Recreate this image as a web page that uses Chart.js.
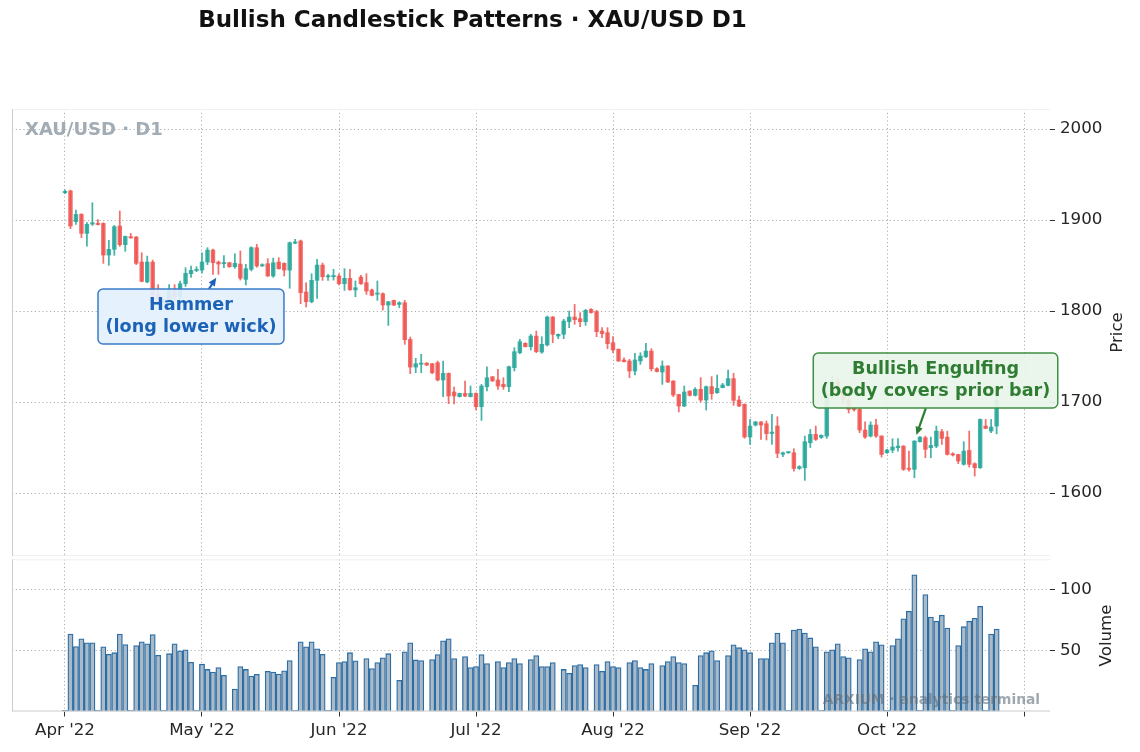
<!DOCTYPE html>
<html>
<head>
<meta charset="utf-8">
<title>Bullish Candlestick Patterns · XAU/USD D1</title>
<script src="https://cdn.jsdelivr.net/npm/chart.js@4.4.1/dist/chart.umd.min.js"></script>
<style>
  html, body { margin: 0; padding: 0; background: #fff; }
  #wrap { position: relative; width: 1140px; height: 752px; overflow: hidden; background: #fff; }
  #price-chart { position: absolute; left: 0; top: 0; }
  #volume-chart { position: absolute; left: 0; top: 555px; }
</style>
</head>
<body>
<div id="wrap">
  <canvas id="price-chart" width="1140" height="557"></canvas>
  <canvas id="volume-chart" width="1140" height="197"></canvas>
</div>
<script>
/*** data (one row = one 6-session week) ***/
const opens = [
  1930, 1932, 1898.2, 1906.2, 1885.3, 1895.5,
  1896, 1896.3, 1861.5, 1867.8, 1893.4, 1872.9,
  1881.7, 1881.3, 1853.8, 1832, 1853.8, 1818,
  1810, 1811, 1822, 1816, 1830, 1841,
  1844.5, 1845, 1853.8, 1867, 1853.8, 1852,
  1853.1, 1848.7, 1851.6, 1834.8, 1845.8, 1869.6,
  1849.5, 1852, 1838.5, 1853.8, 1852.4, 1845,
  1874.5, 1877, 1820.9, 1810.2, 1833.7, 1850.5,
  1837.5, 1837.7, 1838.5, 1830, 1835.9, 1823.2,
  1837.3, 1831.1, 1823.1, 1818.5, 1819, 1806.6,
  1811.7, 1807.3, 1809.1, 1768.8, 1738.4, 1741.5,
  1742.8, 1742.1, 1743.2, 1724.2, 1731.5, 1711,
  1705.9, 1709.5, 1705.9, 1709.5, 1694.9, 1716.9,
  1727.8, 1724.2, 1719.4, 1716.8, 1737.7, 1754.2,
  1764.5, 1760.8, 1772.5, 1754.9, 1762.7, 1793.4,
  1772.5, 1774.4, 1788.3, 1793.4, 1791.6, 1788.3,
  1801.8, 1799.3, 1778, 1776.2, 1765.2, 1757.9,
  1746.2, 1745.1, 1734.1, 1745.1, 1749.8, 1756,
  1736.6, 1733, 1739.6, 1723.1, 1708.4, 1695.6,
  1712.1, 1707.3, 1714, 1702.2, 1716.9, 1710.3,
  1715.8, 1718.3, 1725.7, 1702.2, 1697.5, 1661.6,
  1674.7, 1678.1, 1676.2, 1665.4, 1673.6, 1642.5,
  1644.3, 1644.3, 1627, 1627.8, 1655.3, 1664.4,
  1661.1, 1662.6, 1708, 1722, 1712, 1702,
  1692.5, 1691.9, 1669.2, 1662.6, 1674.7, 1662.6,
  1644.3, 1647.2, 1649.8, 1651.6, 1627, 1626,
  1656.4, 1660.8, 1649.8, 1651.6, 1667.4, 1661.5,
  1643.2, 1642.4, 1631.5, 1646.8, 1632.2, 1627.8,
  1673.6, 1668.1, 1673.6
];
const highs = [
  1933, 1933, 1911, 1907, 1897.1, 1919,
  1900.5, 1897, 1877.6, 1894.1, 1909.9, 1882.5,
  1885.3, 1882, 1864, 1860.4, 1856, 1829,
  1813, 1829, 1829, 1833, 1847.6, 1849.5,
  1848.7, 1864, 1869.6, 1868, 1855, 1861,
  1853.5, 1863, 1866, 1851.3, 1870.7, 1873.3,
  1852, 1857.5, 1858.2, 1858.6, 1853, 1875.8,
  1878.8, 1878, 1831.1, 1841, 1856.8, 1852.7,
  1840.3, 1845.8, 1841, 1846.5, 1845.8, 1833,
  1839.2, 1841, 1824, 1833, 1820, 1810.5,
  1812, 1810.2, 1811.7, 1771.4, 1748, 1752.4,
  1743.2, 1742.5, 1745, 1745, 1732, 1716.5,
  1709.8, 1723.1, 1717.6, 1710, 1719.4, 1738.8,
  1728, 1735.9, 1726.7, 1739.5, 1759.7, 1768.9,
  1765.2, 1774.4, 1778, 1771.8, 1794.5, 1794,
  1774.8, 1790.9, 1800, 1807.3, 1798.2, 1801.8,
  1802.6, 1800.8, 1781.7, 1781.7, 1771.8, 1758.5,
  1748.7, 1746.9, 1753.5, 1754.2, 1764.5, 1758.6,
  1737.7, 1745.1, 1740, 1723.5, 1708.5, 1717.6,
  1712.4, 1715.8, 1726.8, 1717.6, 1727.9, 1729.7,
  1720.5, 1735.2, 1731.5, 1706.6, 1698, 1681,
  1678.8, 1678.4, 1679.2, 1686.4, 1683.8, 1645,
  1645, 1648.7, 1630, 1662.6, 1669.9, 1673.6,
  1664, 1712, 1730, 1726, 1716, 1708,
  1694, 1694, 1678.3, 1678.3, 1680.9, 1663,
  1648, 1659.7, 1659.7, 1652, 1646.1, 1657.5,
  1662, 1662.6, 1661.5, 1673.6, 1670, 1668,
  1644.3, 1642.5, 1656.4, 1668.1, 1633.3, 1681.5,
  1680.9, 1680.9, 1706
];
const lows = [
  1929, 1890.5, 1895.2, 1880.6, 1871.4, 1894,
  1894.5, 1852.4, 1850.2, 1861.2, 1871, 1865.6,
  1880, 1851, 1832, 1831, 1814, 1806,
  1808, 1806, 1812, 1813, 1827, 1837,
  1843.2, 1842, 1851, 1840.3, 1840.3, 1847.6,
  1848, 1847, 1834, 1828.6, 1844, 1848,
  1849, 1838, 1837, 1846, 1838.5, 1825,
  1874, 1808, 1804.4, 1809, 1813.9, 1833.7,
  1833.7, 1834, 1828.6, 1822.7, 1822.7, 1815.7,
  1829.3, 1818.3, 1816.5, 1811.7, 1801.1, 1784.2,
  1806, 1803.6, 1763.4, 1731.1, 1732.2, 1732.2,
  1740, 1731.1, 1723.1, 1705.9, 1698.2, 1697.8,
  1705.5, 1705.9, 1705.5, 1691.2, 1679.8, 1712.1,
  1722.7, 1713.9, 1713.9, 1711.3, 1734.1, 1753.1,
  1760.4, 1757.2, 1754.2, 1753.5, 1761.6, 1765.2,
  1769.6, 1769.6, 1781.7, 1785.4, 1782.8, 1784.3,
  1797.6, 1771.8, 1770.7, 1758.6, 1754.2, 1744.5,
  1744, 1726.8, 1729.7, 1741.4, 1748.7, 1734.1,
  1733, 1719.4, 1721.3, 1705.9, 1689.1, 1694.9,
  1706.6, 1706.6, 1700, 1691.2, 1703, 1709.5,
  1715.5, 1717.6, 1696.4, 1695, 1660.1, 1653.5,
  1673.6, 1659, 1658.3, 1653.4, 1638.8, 1640,
  1643.5, 1624, 1626, 1613.9, 1650, 1657.8,
  1660, 1660, 1704, 1708, 1698, 1688,
  1690, 1666.3, 1660, 1661.5, 1661, 1639.5,
  1643.6, 1644.3, 1646.1, 1624.9, 1624.1, 1616.8,
  1656, 1638.8, 1638.8, 1649.8, 1653.4, 1641.7,
  1640.6, 1632.2, 1630.7, 1628.5, 1618.6, 1627,
  1670.7, 1666.3, 1665
];
const closes = [
  1931.5, 1893.4, 1906.2, 1885.3, 1895.2, 1897,
  1895, 1861.5, 1867.8, 1892.7, 1872.9, 1882,
  1880.3, 1852.4, 1832.6, 1853.8, 1818, 1810,
  1811, 1822, 1816, 1830, 1841.4, 1844.7,
  1845, 1853.8, 1867, 1853.1, 1851.6, 1853,
  1848.7, 1852.4, 1836, 1846.5, 1869.6, 1849.5,
  1851, 1838.5, 1853, 1846.5, 1845, 1875.1,
  1876, 1820.2, 1810.2, 1833.7, 1850.5, 1837.7,
  1838, 1838.5, 1830, 1835.9, 1823.4, 1825.6,
  1830, 1822, 1817.2, 1819.3, 1806.6, 1810.2,
  1806.6, 1809.1, 1768.5, 1738.4, 1742.1, 1742.5,
  1740.6, 1732.2, 1724.2, 1731.5, 1706.6, 1706.6,
  1709.5, 1706.6, 1709.5, 1694.9, 1717.6, 1726.7,
  1723.1, 1717.6, 1716.8, 1738.8, 1755.3, 1766.3,
  1760.8, 1772.5, 1755.3, 1763.4, 1793.4, 1774.4,
  1774.4, 1789, 1793.4, 1790.5, 1788.3, 1800.8,
  1798.2, 1777.3, 1775.1, 1764.1, 1757.2, 1745.1,
  1744.3, 1734.1, 1746.2, 1750.6, 1756, 1736.6,
  1733.5, 1739.6, 1722, 1707.7, 1695.6, 1711,
  1707.3, 1714, 1702.2, 1716.9, 1709.2, 1715,
  1718.7, 1725.7, 1701.8, 1695.6, 1661.6, 1673.6,
  1678.1, 1674.7, 1665.2, 1667, 1643.6, 1644.3,
  1644.8, 1627, 1629, 1656.4, 1664.4, 1658.9,
  1663.3, 1708, 1722, 1712, 1702, 1692,
  1691.5, 1669.2, 1661.5, 1674.7, 1662.6, 1642.4,
  1647.2, 1650.5, 1651.6, 1626, 1626, 1657.1,
  1661.5, 1648, 1652.3, 1668.1, 1660, 1642.4,
  1641.7, 1635.1, 1646.1, 1631.5, 1627.8, 1680.9,
  1671, 1672.5, 1702
];
const volumes = [
  1, 63.4, 53.2, 59.4, 56.2, 56.2,
  1, 53, 46.8, 48.1, 63.4, 54.8,
  1, 54, 57, 55.4, 62.9, 46,
  1, 47.3, 55.4, 49.7, 50.5, 40.3,
  1, 38.7, 34.4, 32.3, 36, 29.6,
  null, 18.3, 36.8, 34.4, 29, 30.4,
  null, 32.8, 32.3, 30.6, 33.3, 41.7,
  1, 57, 53, 57, 51.3, 46.8,
  1, 28, 40, 40.9, 48.1, 41.4,
  null, 43.3, 35.2, 40, 44, 47.3,
  null, 25.5, 48.9, 56.2, 42.2, 41.7,
  null, 42.5, 46.5, 57.8, 59.4, 43.3,
  null, 44.9, 36, 36.8, 46.5, 39.2,
  null, 40.9, 36, 40, 43.3, 39.2,
  null, 42.5, 45.7, 36.8, 36.8, 40,
  null, 34.4, 31.2, 37.6, 38.4, 36,
  null, 38.4, 32.8, 40.9, 36.8, 36,
  null, 40, 41.7, 36, 34.4, 39.2,
  null, 37.6, 40.9, 44.9, 40, 39.2,
  null, 21.5, 45.7, 48.1, 49.7, 41.7,
  null, 45.7, 54.6, 52.2, 50.5, 48.1,
  null, 43.3, 43.3, 56.2, 64.2, 56.2,
  1, 66.7, 67.5, 64.2, 60.2, 53,
  1, 48.9, 50.5, 55.4, 44.9, 44,
  null, 42.5, 51.3, 48.9, 57, 54.6,
  1, 54, 59.4, 75.8, 82, 111.8,
  1, 95.7, 77.2, 73.9, 78.8, 68.3,
  1, 54, 69.4, 73.9, 76.3, 86,
  1, 63.4, 67.5
];

// month ticks sit every 25 sessions; the last one carries no label
const monthTicks = [0, 25, 50, 75, 100, 125, 150, 175];
const monthLabels = ["Apr '22", "May '22", "Jun '22", "Jul '22", "Aug '22", "Sep '22", "Oct '22", ""];
const priceTicks = [1600, 1700, 1800, 1900, 2000];
const volumeTicks = [50, 100];

const hammerIdx = 28;
const engulfIdx = 155;

/*** shared look ***/
Chart.defaults.font.family = "'DejaVu Sans', sans-serif";
Chart.defaults.color = '#262626';

const upColor = 'rgba(38,166,154,0.86)';
const downColor = 'rgba(239,83,80,0.84)';
const gridColor = 'rgba(0,0,0,0.32)';
const gridDash = [1.2, 2.6];
const xRange = { min: -9.67, max: 179.74 };

const slots = closes.map((_, i) => i);
const candleColor = c => closes[c.dataIndex] >= opens[c.dataIndex] ? upColor : downColor;

function line(ctx, x0, y0, x1, y1) {
    ctx.beginPath();
    ctx.moveTo(x0, y0);
    ctx.lineTo(x1, y1);
    ctx.stroke();
}

function xAxis(showLabels) {
    return {
        type: 'linear',
        min: xRange.min,
        max: xRange.max,
        offset: false,
        afterBuildTicks: scale => { scale.ticks = monthTicks.map(v => ({ value: v })); },
        afterFit: scale => {
            scale.height = showLabels ? 40.5 : 0;
            scale.paddingLeft = 0;
            scale.paddingRight = 0;
        },
        grid: {
            offset: false,
            color: gridColor,
            drawTicks: showLabels,
            tickLength: 5,
            tickColor: '#333',
            tickWidth: 1,
        },
        border: { display: false, dash: gridDash },
        ticks: {
            display: showLabels,
            autoSkip: false,
            maxRotation: 0,
            padding: 4,
            font: { size: 16.7 },
            callback: v => monthLabels[monthTicks.indexOf(v)] ?? '',
        },
    };
}

function yAxis(min, max, tickList) {
    return {
        type: 'linear',
        position: 'right',
        min: min,
        max: max,
        afterBuildTicks: scale => { scale.ticks = tickList.map(v => ({ value: v })); },
        afterFit: scale => {
            scale.width = 90;
            scale.paddingTop = 0;
            scale.paddingBottom = 0;
        },
        grid: {
            color: gridColor,
            drawTicks: true,
            tickLength: 5,
            tickColor: '#333',
            tickWidth: 1,
        },
        border: { display: false, dash: gridDash },
        ticks: { padding: 5, font: { size: 16.7 }, callback: v => String(v) },
    };
}

/*** annotations ***/
const notes = [
    {
        idx: hammerIdx, anchor: 'low', at: { x: 22.99, y: 1794 },
        lines: ['Hammer', '(long lower wick)'],
        text: '#1c63b7', fill: 'rgba(227,240,252,0.93)', edge: '#3a7cc8', shrink: 4,
    },
    {
        idx: engulfIdx, anchor: 'high', at: { x: 158.85, y: 1723.6 },
        lines: ['Bullish Engulfing', '(body covers prior bar)'],
        text: '#2e7d32', fill: 'rgba(232,245,233,0.93)', edge: '#3f8f44', shrink: 6,
    },
];

function roundRect(ctx, x, y, w, h, r) {
    ctx.beginPath();
    ctx.moveTo(x + r, y);
    ctx.lineTo(x + w - r, y);
    ctx.arcTo(x + w, y, x + w, y + r, r);
    ctx.lineTo(x + w, y + h - r);
    ctx.arcTo(x + w, y + h, x + w - r, y + h, r);
    ctx.lineTo(x + r, y + h);
    ctx.arcTo(x, y + h, x, y + h - r, r);
    ctx.lineTo(x, y + r);
    ctx.arcTo(x, y, x + r, y, r);
    ctx.closePath();
}

function drawNote(ctx, xs, ys, n) {
    const cx = xs.getPixelForValue(n.at.x);
    const cy = ys.getPixelForValue(n.at.y);
    ctx.font = 'bold 17.6px "DejaVu Sans"';
    const tw = Math.max(...n.lines.map(t => ctx.measureText(t).width));
    const lh = 22;
    const w = tw + 15;
    const h = lh * n.lines.length + 11;
    const bx = cx - w / 2, by = cy - h / 2;

    // arrow from the box edge to the candle
    const tx = xs.getPixelForValue(n.idx);
    const ty = ys.getPixelForValue(n.anchor === 'low' ? lows[n.idx] : highs[n.idx]);
    const dx = tx - cx, dy = ty - cy;
    const dist = Math.hypot(dx, dy);
    const tEdge = Math.min(Math.abs((h / 2) / dy || Infinity), Math.abs((w / 2) / dx || Infinity));
    const sx = cx + dx * tEdge, sy = cy + dy * tEdge;
    const ex = tx - dx / dist * n.shrink, ey = ty - dy / dist * n.shrink;
    const ang = Math.atan2(ey - sy, ex - sx);
    const head = 9;
    ctx.save();
    ctx.strokeStyle = n.text;
    ctx.fillStyle = n.text;
    ctx.lineWidth = 2.2;
    line(ctx, sx, sy, ex - Math.cos(ang) * head * 0.7, ey - Math.sin(ang) * head * 0.7);
    ctx.beginPath();
    ctx.moveTo(ex, ey);
    ctx.lineTo(ex - head * Math.cos(ang - 0.42), ey - head * Math.sin(ang - 0.42));
    ctx.lineTo(ex - head * Math.cos(ang + 0.42), ey - head * Math.sin(ang + 0.42));
    ctx.closePath();
    ctx.fill();
    ctx.restore();

    // box and text
    roundRect(ctx, bx, by, w, h, 5);
    ctx.fillStyle = n.fill;
    ctx.fill();
    ctx.lineWidth = 1.5;
    ctx.strokeStyle = n.edge;
    ctx.stroke();
    ctx.fillStyle = n.text;
    ctx.textAlign = 'center';
    ctx.textBaseline = 'middle';
    n.lines.forEach((t, i) => {
        ctx.fillText(t, cx, cy + (i - (n.lines.length - 1) / 2) * lh);
    });
}

/*** price panel ***/
const priceDecor = {
    id: 'priceDecor',
    afterDraw(chart) {
        const { ctx, chartArea: a, scales } = chart;
        ctx.save();
        ctx.lineWidth = 1;
        ctx.strokeStyle = '#f0f0f0';
        line(ctx, a.left, a.top + 0.5, a.right, a.top + 0.5);
        line(ctx, a.left, a.bottom - 0.5, a.right, a.bottom - 0.5);
        ctx.strokeStyle = '#cccccc';
        line(ctx, a.left + 0.5, a.top, a.left + 0.5, a.bottom);

        notes.forEach(n => drawNote(ctx, scales.x, scales.y, n));

        ctx.textBaseline = 'middle';
        ctx.textAlign = 'left';
        ctx.fillStyle = '#a2acb4';
        ctx.font = 'bold 18px "DejaVu Sans"';
        ctx.fillText('XAU/USD · D1', 25, 130);

        ctx.textAlign = 'center';
        ctx.fillStyle = '#111';
        ctx.font = 'bold 23px "DejaVu Sans"';
        ctx.fillText('Bullish Candlestick Patterns · XAU/USD D1', 472.5, 21);

        ctx.translate(1118, (a.top + a.bottom) / 2);
        ctx.rotate(-Math.PI / 2);
        ctx.fillStyle = '#262626';
        ctx.font = '16.7px "DejaVu Sans"';
        ctx.fillText('Price', 0, 0);
        ctx.restore();
    }
};

const priceChart = new Chart(document.getElementById('price-chart').getContext('2d'), {
    type: 'bar',
    data: {
        datasets: [
            {
                label: 'Body',
                data: slots.map(i => ({ x: i, y: [Math.min(opens[i], closes[i]), Math.max(opens[i], closes[i])] })),
                backgroundColor: candleColor,
                barThickness: 3.8,
                minBarLength: 1.2,
                grouped: false,
            },
            {
                label: 'Wick',
                data: slots.map(i => ({ x: i, y: [lows[i], highs[i]] })),
                backgroundColor: candleColor,
                barThickness: 1.1,
                grouped: false,
            }
        ]
    },
    options: {
        responsive: false,
        animation: false,
        events: [],
        layout: { padding: { left: 12, top: 109, right: 0, bottom: 1 } },
        plugins: { legend: { display: false }, tooltip: { enabled: false } },
        scales: {
            x: xAxis(false),
            y: yAxis(1530.8, 2022, priceTicks),
        }
    },
    plugins: [priceDecor]
});

/*** volume panel ***/
const volumeDecor = {
    id: 'volumeDecor',
    afterDraw(chart) {
        const { ctx, chartArea: a } = chart;
        ctx.save();
        ctx.lineWidth = 1;
        ctx.strokeStyle = '#eeeeee';
        line(ctx, a.left, a.top + 0.5, a.right, a.top + 0.5);
        ctx.strokeStyle = '#cccccc';
        line(ctx, a.left + 0.5, a.top, a.left + 0.5, a.bottom);
        line(ctx, a.left, a.bottom - 0.5, a.right, a.bottom - 0.5);

        ctx.textAlign = 'right';
        ctx.textBaseline = 'middle';
        ctx.fillStyle = 'rgba(95,110,122,0.6)';
        ctx.font = 'bold 13.8px "DejaVu Sans"';
        ctx.fillText('ARXIUM · analytics terminal', 1040, 145);

        ctx.textAlign = 'center';
        ctx.translate(1107, (a.top + a.bottom) / 2);
        ctx.rotate(-Math.PI / 2);
        ctx.fillStyle = '#262626';
        ctx.font = '16.7px "DejaVu Sans"';
        ctx.fillText('Volume', 0, 0);
        ctx.restore();
    }
};

const volumeChart = new Chart(document.getElementById('volume-chart').getContext('2d'), {
    type: 'bar',
    data: {
        datasets: [
            {
                label: 'Volume',
                data: slots.map(i => ({ x: i, y: volumes[i] })),
                backgroundColor: '#abbac6',
                borderColor: '#2b6ea7',
                borderWidth: 1.3,
                barThickness: 5.2,
                grouped: false,
            }
        ]
    },
    options: {
        responsive: false,
        animation: false,
        events: [],
        layout: { padding: { left: 12, top: 4.3, right: 0, bottom: 0 } },
        plugins: { legend: { display: false }, tooltip: { enabled: false } },
        scales: {
            x: xAxis(true),
            y: yAxis(0, 124.5, volumeTicks),
        }
    },
    plugins: [volumeDecor]
});
</script>
</body>
</html>
